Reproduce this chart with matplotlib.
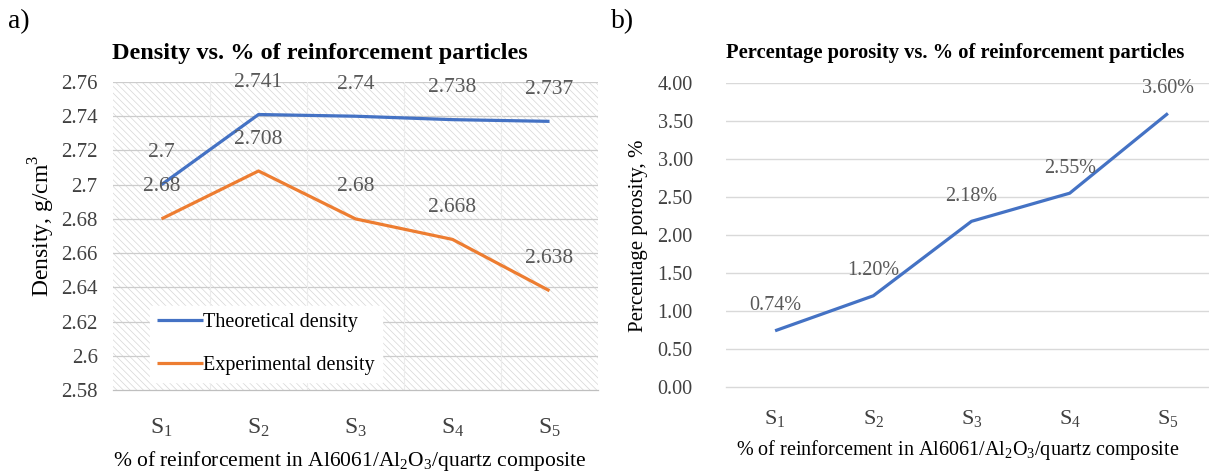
import matplotlib
matplotlib.use("Agg")
import matplotlib.pyplot as plt
from matplotlib.patches import Rectangle

# ---- data ----
categories = [r"$\mathregular{S_1}$", r"$\mathregular{S_2}$", r"$\mathregular{S_3}$",
              r"$\mathregular{S_4}$", r"$\mathregular{S_5}$"]
theoretical = [2.7, 2.741, 2.74, 2.738, 2.737]
experimental = [2.68, 2.708, 2.68, 2.668, 2.638]
theoretical_labels = ["2.7", "2.741", "2.74", "2.738", "2.737"]
experimental_labels = ["2.68", "2.708", "2.68", "2.668", "2.638"]
density_ticks = [2.58, 2.60, 2.62, 2.64, 2.66, 2.68, 2.70, 2.72, 2.74, 2.76]
density_ticklabels = ["2.58", "2.6", "2.62", "2.64", "2.66", "2.68", "2.7", "2.72", "2.74", "2.76"]
porosity = [0.74, 1.20, 2.18, 2.55, 3.60]
porosity_labels = ["0.74%", "1.20%", "2.18%", "2.55%", "3.60%"]
porosity_ticks = [0.0, 0.5, 1.0, 1.5, 2.0, 2.5, 3.0, 3.5, 4.0]
porosity_ticklabels = ["0.00", "0.50", "1.00", "1.50", "2.00", "2.50", "3.00", "3.50", "4.00"]

plt.rcParams['font.family'] = ['Liberation Serif', 'DejaVu Serif']
plt.rcParams['mathtext.fontset'] = 'custom'
plt.rcParams['mathtext.rm'] = 'Liberation Serif'
plt.rcParams['hatch.linewidth'] = 0.5

W, H = 1209, 474
fig = plt.figure(figsize=(W / 100, H / 100), dpi=100)

BLUE = "#4472C4"
ORANGE = "#ED7D31"
TICKC = "#404040"
LABELC = "#595959"

def fx(px):
    return px / W

def fy(py):
    return 1 - py / H

# ---------------- panel a ----------------
ax1 = fig.add_axes([fx(113), fy(390), fx(598) - fx(113), fy(82) - fy(390)])
x = list(range(len(categories)))
ax1.add_patch(Rectangle((0, 0), 1, 1, transform=ax1.transAxes, facecolor="white",
                        edgecolor="#d6d6d6", linewidth=0, hatch="\\" * 5, zorder=0))
ax1.set_xlim(-0.5, len(categories) - 0.5)
ax1.set_ylim(2.58, 2.76)
for t in density_ticks[1:]:
    ax1.axhline(t, color="#cccccc", lw=0.9, zorder=1)
for b in [0.5, 1.5, 2.5, 3.5]:
    ax1.axvline(b, color="#ececec", lw=0.8, zorder=1)
ax1.plot(x, theoretical, color=BLUE, lw=2.3, solid_capstyle="butt", zorder=3,
         label="Theoretical density")
ax1.plot(x, experimental, color=ORANGE, lw=2.3, solid_capstyle="butt", zorder=3,
         label="Experimental density")
for xi, v, s in zip(x, theoretical, theoretical_labels):
    ax1.annotate(s, (xi, v), xytext=(0, 23), textcoords="offset points",
                 ha="center", va="center", fontsize=15.5, color=LABELC, zorder=4)
for xi, v, s in zip(x, experimental, experimental_labels):
    ax1.annotate(s, (xi, v), xytext=(0, 23), textcoords="offset points",
                 ha="center", va="center", fontsize=15.5, color=LABELC, zorder=4)
ax1.set_yticks(density_ticks)
ax1.set_yticklabels(density_ticklabels)
ax1.set_xticks(x)
ax1.set_xticklabels(categories)
ax1.tick_params(axis="y", length=0, pad=11, labelsize=15, labelcolor=TICKC)
ax1.tick_params(axis="x", length=0, pad=19, labelsize=17, labelcolor=TICKC)
for sp in ["top", "right", "left"]:
    ax1.spines[sp].set_visible(False)
ax1.spines["bottom"].set_color("#bfbfbf")
ax1.spines["bottom"].set_linewidth(0.9)
leg = ax1.legend(loc="upper left",
                 bbox_to_anchor=((150 - 113) / 485, (390 - 306) / 308),
                 frameon=True, fontsize=14.5, handlelength=2.3, handletextpad=0.0,
                 labelspacing=1.2, borderpad=0.35, borderaxespad=0.0, fancybox=False)
leg.get_frame().set_facecolor("white")
leg.get_frame().set_edgecolor("white")
leg.get_frame().set_alpha(1.0)

fig.text(fx(320), fy(53), "Density vs. % of reinforcement particles", ha="center", va="center",
         fontsize=17.5, fontweight="bold", color="black")
fig.text(fx(42), fy(226), "Density, g/cm$^3$", ha="center", va="center", rotation=90,
         fontsize=17, color="black")
fig.text(fx(350), fy(461), r"% of reinforcement in Al6061/Al$_2$O$_3$/quartz composite",
         ha="center", va="center", fontsize=15.5, color="black")
fig.text(fx(8), fy(22), "a)", ha="left", va="center", fontsize=20, color="black")

# ---------------- panel b ----------------
ax2 = fig.add_axes([fx(726), fy(387), fx(1217) - fx(726), fy(83) - fy(387)])
ax2.set_xlim(-0.5, len(categories) - 0.5)
ax2.set_ylim(0, 4)
for t in porosity_ticks[1:]:
    ax2.axhline(t, color="#d9d9d9", lw=1.0, zorder=1)
ax2.plot(x, porosity, color=BLUE, lw=2.3, solid_capstyle="butt", zorder=3)
for xi, v, s in zip(x, porosity, porosity_labels):
    ax2.annotate(s, (xi, v), xytext=(0, 18), textcoords="offset points",
                 ha="center", va="center", fontsize=14.5, color=LABELC, zorder=4)
ax2.set_yticks(porosity_ticks)
ax2.set_yticklabels(porosity_ticklabels)
ax2.set_xticks(x)
ax2.set_xticklabels(categories)
ax2.tick_params(axis="y", length=0, pad=24, labelsize=14.5, labelcolor=TICKC)
ax2.tick_params(axis="x", length=0, pad=15, labelsize=16, labelcolor=TICKC)
for sp in ["top", "right", "left"]:
    ax2.spines[sp].set_visible(False)
ax2.spines["bottom"].set_color("#d9d9d9")
ax2.spines["bottom"].set_linewidth(1.0)

fig.text(fx(955), fy(53), "Percentage porosity vs. % of reinforcement particles", ha="center",
         va="center", fontsize=14.8, fontweight="bold", color="black")
fig.text(fx(638), fy(236), "Percentage porosity, %", ha="center", va="center", rotation=90,
         fontsize=15, color="black")
fig.text(fx(958), fy(450), r"% of reinforcement in Al6061/Al$_2$O$_3$/quartz composite",
         ha="center", va="center", fontsize=14.5, color="black")
fig.text(fx(611), fy(22), "b)", ha="left", va="center", fontsize=20, color="black")

fig.savefig("out.png", dpi=100, facecolor="white")
